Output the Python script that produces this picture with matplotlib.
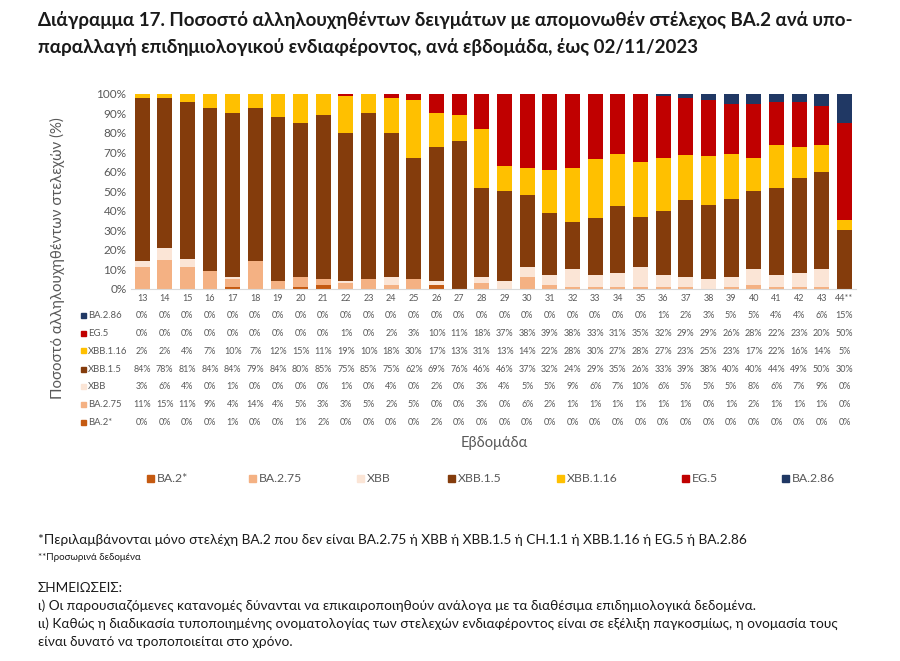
import matplotlib
matplotlib.use("Agg")
import matplotlib.pyplot as plt
import numpy as np
from matplotlib.patches import Rectangle

plt.rcParams['font.family'] = ['Lato', 'DejaVu Sans']

weeks = ['13','14','15','16','17','18','19','20','21','22','23','24','25','26','27',
         '28','29','30','31','32','33','34','35','36','37','38','39','40','41','42','43','44**']

ba2     = [0,0,0,0,1,0,0,1,2,0,0,0,0,2,0, 0,0,0,0,0,0,0,0,0,0,0,0,0,0,0,0,0]
ba275   = [11,15,11,9,4,14,4,5,3,3,5,2,5,0,0, 3,0,6,2,1,1,1,1,1,1,0,1,2,1,1,1,0]
xbb     = [3,6,4,0,1,0,0,0,0,1,0,4,0,2,0, 3,4,5,5,9,6,7,10,6,5,5,5,8,6,7,9,0]
xbb15   = [84,78,81,84,84,79,84,80,85,75,85,75,62,69,76, 46,46,37,32,24,29,35,26,33,39,38,40,40,44,49,50,30]
xbb116  = [2,2,4,7,10,7,12,15,11,19,10,18,30,17,13, 31,13,14,22,28,30,27,28,27,23,25,23,17,22,16,14,5]
eg5     = [0,0,0,0,0,0,0,0,0,1,0,2,3,10,11, 18,37,38,39,38,33,31,35,32,29,29,26,28,22,23,20,50]
ba286   = [0,0,0,0,0,0,0,0,0,0,0,0,0,0,0, 0,0,0,0,0,0,0,0,1,2,3,5,5,4,4,6,15]

series_names = ['BA.2*', 'BA.2.75', 'XBB', 'XBB.1.5', 'XBB.1.16', 'EG.5', 'BA.2.86']
series_vals = [ba2, ba275, xbb, xbb15, xbb116, eg5, ba286]
colors = ['#C55A11', '#F4B183', '#FBE5D6', '#843C0C', '#FFC000', '#C00000', '#203864']

W, H = 900, 661
fig = plt.figure(figsize=(9, 6.61), dpi=100)
gray = '#595959'

def fx(px): return px / W
def fy(py): return 1 - py / H

ax = fig.add_axes([fx(130.7), fy(288.5), fx(855.8) - fx(130.7), fy(94) - fy(288.5)])

data = np.array(series_vals, dtype=float)
tot = data.sum(axis=0)
norm = data / tot * 100
x = np.arange(len(weeks))
bottom = np.zeros(len(weeks))
for vals, c in zip(norm, colors):
    ax.bar(x, vals, bottom=bottom, width=0.66, color=c, linewidth=0)
    bottom += vals

ax.set_xlim(-0.5, len(weeks) - 0.5)
ax.set_ylim(0, 100)
ax.set_yticks(np.arange(0, 101, 10))
ax.set_yticklabels([f'{v}%' for v in range(0, 101, 10)], color=gray, fontsize=8.5)
ax.set_xticks([])
for s in ['top', 'right', 'left']:
    ax.spines[s].set_visible(False)
ax.spines['bottom'].set_color('#D9D9D9')
ax.tick_params(axis='y', length=0, pad=3)

# Title
tkw = dict(fontsize=13.5, fontweight='bold', color='#1a1a1a', va='center', ha='left')
fig.text(fx(38), fy(20), 'Διάγραμμα 17. Ποσοστό αλληλουχηθέντων δειγμάτων με απομονωθέν στέλεχος BA.2 ανά υπο-', **tkw)
fig.text(fx(38), fy(47), 'παραλλαγή επιδημιολογικού ενδιαφέροντος, ανά εβδομάδα, έως 02/11/2023', **tkw)

# Y label
fig.text(fx(57), fy(258), 'Ποσοστό αλληλουχηθέντων στελεχών (%)', rotation=90,
         fontsize=10.8, color=gray, va='center', ha='center')

# Data table
trans = matplotlib.transforms.blended_transform_factory(ax.transData, fig.transFigure)
for i, w in enumerate(weeks):
    fig.text(i, fy(298.3), w, transform=trans, fontsize=6.5, color=gray, ha='center', va='center')

row_y = [315, 333, 351, 369, 386.5, 404.3, 422.3]
order = list(range(len(series_names)))[::-1]
for ry, si in zip(row_y, order):
    fig.patches.append(Rectangle((fx(81), fy(ry) - 2.5 / H), 5 / W, 5 / H,
                                 transform=fig.transFigure, color=colors[si], figure=fig))
    fig.text(fx(88), fy(ry), series_names[si], fontsize=6.8, color=gray, ha='left', va='center')
    for i, v in enumerate(series_vals[si]):
        fig.text(i, fy(ry), f'{v}%', transform=trans, fontsize=6.5, color=gray,
                 ha='center', va='center')

# X label
fig.text(fx(494), fy(443), 'Εβδομάδα', fontsize=10.5, color=gray, ha='center', va='center')

# Legend
leg_x = [147, 249, 357, 448, 557, 682, 782]
for lx, name, c in zip(leg_x, series_names, colors):
    fig.patches.append(Rectangle((fx(lx), fy(478) - 3.5 / H), 7 / W, 7 / H,
                                 transform=fig.transFigure, color=c, figure=fig))
    fig.text(fx(lx + 10), fy(478), name, fontsize=8.8, color=gray, ha='left', va='center')

# Footnotes
nkw = dict(fontsize=9.8, color='#1a1a1a', ha='left', va='center')
fig.text(fx(38), fy(540), '*Περιλαμβάνονται μόνο στελέχη BA.2 που δεν είναι BA.2.75 ή XBB ή XBB.1.5 ή CH.1.1 ή XBB.1.16 ή EG.5 ή BA.2.86', **nkw)
fig.text(fx(38), fy(557), '**Προσωρινά δεδομένα', fontsize=7, color='#1a1a1a', ha='left', va='center')
fig.text(fx(38), fy(588), 'ΣΗΜΕΙΩΣΕΙΣ:', **nkw)
fig.text(fx(38), fy(606), 'ι) Οι παρουσιαζόμενες κατανομές δύνανται να επικαιροποιηθούν ανάλογα με τα διαθέσιμα επιδημιολογικά δεδομένα.', **nkw)
fig.text(fx(38), fy(624), 'ιι) Καθώς η διαδικασία τυποποιημένης ονοματολογίας των στελεχών ενδιαφέροντος είναι σε εξέλιξη παγκοσμίως, η ονομασία τους', **nkw)
fig.text(fx(38), fy(642), 'είναι δυνατό να τροποποιείται στο χρόνο.', **nkw)

fig.savefig('out.png', dpi=100)
